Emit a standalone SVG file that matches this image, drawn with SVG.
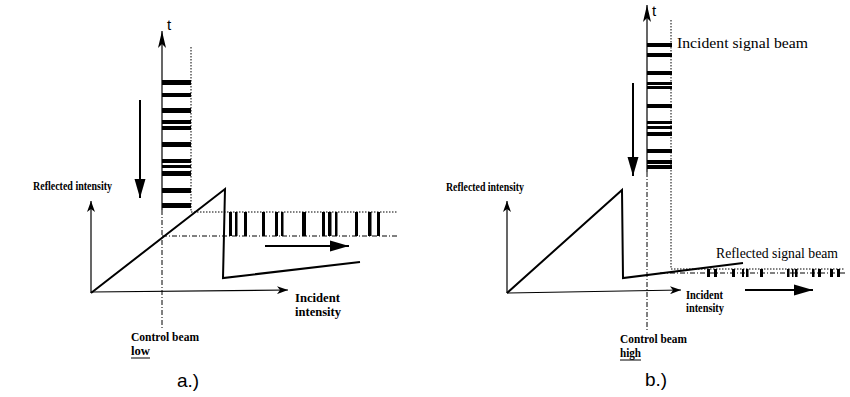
<svg xmlns="http://www.w3.org/2000/svg" width="850" height="397" viewBox="0 0 850 397">
<defs>
<style>
.ax{stroke:#000;stroke-width:1.2;fill:none}
.cv{stroke:#000;stroke-width:2;fill:none}
.dt{stroke:#000;stroke-width:1;stroke-dasharray:1.5 1.5;fill:none}
.dd{stroke:#000;stroke-width:1;stroke-dasharray:5 2 1 2;fill:none}
.lb{font-family:"Liberation Serif",serif;font-weight:bold;font-size:12px;fill:#000}
.tx{font-family:"Liberation Serif",serif;font-size:15px;fill:#000}
.sn{font-family:"Liberation Sans",sans-serif;fill:#000}
.bar{fill:#000}
</style>
<marker id="ah" markerWidth="12" markerHeight="8" refX="11" refY="4" orient="auto" markerUnits="userSpaceOnUse">
<path d="M0,0 L11,4 L0,8 L3,4 Z" fill="#000"/>
</marker>
<marker id="th" markerWidth="18" markerHeight="10" refX="17" refY="5" orient="auto" markerUnits="userSpaceOnUse">
<path d="M0,1 L17,5 L0,9 L4,5 Z" fill="#000"/>
</marker>
<marker id="bh" markerWidth="20" markerHeight="12" refX="19" refY="6" orient="auto" markerUnits="userSpaceOnUse">
<path d="M0,0.5 L19,6 L0,11.5 Z" fill="#000"/>
</marker>
</defs>

<g id="panel-a">
<g id="connectors-a">
<line class="ax" x1="162" y1="210" x2="162" y2="31" marker-end="url(#th)"/>
<line class="dd" x1="162" y1="210" x2="162" y2="330"/>
<line class="dt" x1="191" y1="47" x2="191" y2="212"/>
<line class="cv" x1="140" y1="100" x2="140" y2="198" marker-end="url(#bh)"/>
<line class="ax" x1="91" y1="293" x2="91" y2="201" marker-end="url(#ah)"/>
<line class="ax" x1="91" y1="292" x2="288" y2="290" marker-end="url(#ah)"/>
<polyline class="cv" points="91,293 225,189 223,278 360,262"/>
<line class="dt" x1="191" y1="212" x2="398" y2="212"/>
<line class="dd" x1="162" y1="236" x2="398" y2="236"/>
<line class="cv" x1="265" y1="246" x2="349" y2="246" marker-end="url(#bh)"/>
</g>
<g id="incident-bars-a">
<rect class="bar" x="162" y="80" width="29" height="5"/>
<rect class="bar" x="162" y="93" width="29" height="4"/>
<rect class="bar" x="162" y="108" width="29" height="5"/>
<rect class="bar" x="162" y="120" width="29" height="4"/>
<rect class="bar" x="162" y="126" width="29" height="4"/>
<rect class="bar" x="162" y="142" width="29" height="5"/>
<rect class="bar" x="162" y="159" width="29" height="4"/>
<rect class="bar" x="162" y="165" width="29" height="3"/>
<rect class="bar" x="162" y="171" width="29" height="5"/>
<rect class="bar" x="162" y="188" width="29" height="5"/>
<rect class="bar" x="162" y="203" width="29" height="5"/>
</g>
<g id="reflected-bars-a">
<rect class="bar" x="229" y="212" width="3" height="24"/>
<rect class="bar" x="235" y="212" width="2.5" height="24"/>
<rect class="bar" x="244" y="212" width="3" height="24"/>
<rect class="bar" x="262" y="212" width="3" height="24"/>
<rect class="bar" x="275" y="212" width="3" height="24"/>
<rect class="bar" x="281" y="212" width="2.5" height="24"/>
<rect class="bar" x="302" y="212" width="4" height="24"/>
<rect class="bar" x="322" y="212" width="3" height="24"/>
<rect class="bar" x="328" y="212" width="3.5" height="24"/>
<rect class="bar" x="335" y="212" width="2.5" height="24"/>
<rect class="bar" x="355" y="212" width="3" height="24"/>
<rect class="bar" x="368" y="212" width="3.5" height="24"/>
<rect class="bar" x="377" y="212" width="3" height="24"/>
</g>
<g id="labels-a">
<text class="sn" x="167" y="30" font-size="15">t</text>
<text class="lb" x="33" y="190" textLength="79" lengthAdjust="spacingAndGlyphs">Reflected intensity</text>
<text class="lb" x="295" y="302" textLength="45" lengthAdjust="spacingAndGlyphs">Incident</text>
<text class="lb" x="295" y="316" textLength="46" lengthAdjust="spacingAndGlyphs">intensity</text>
<text class="lb" x="131" y="341" textLength="68" lengthAdjust="spacingAndGlyphs">Control beam</text>
<text class="lb" x="131" y="355" textLength="19" lengthAdjust="spacingAndGlyphs">low</text>
<line x1="131" y1="358" x2="150" y2="358" stroke="#000" stroke-width="1"/>
<text class="sn" x="177" y="387" font-size="19">a.)</text>
</g>
</g>

<g id="panel-b">
<g id="connectors-b">
<line class="ax" x1="647" y1="172" x2="647" y2="5" marker-end="url(#th)"/>
<line class="dd" x1="647" y1="172" x2="647" y2="330"/>
<line class="dt" x1="671" y1="20" x2="671" y2="269"/>
<line class="cv" x1="633" y1="83" x2="633" y2="176" marker-end="url(#bh)"/>
<line class="ax" x1="507" y1="293" x2="507" y2="201" marker-end="url(#ah)"/>
<line class="ax" x1="507" y1="293" x2="681" y2="290" marker-end="url(#ah)"/>
<polyline class="cv" points="507,293 622,190 623,278 743,263"/>
<line class="dt" x1="671" y1="269" x2="845" y2="269"/>
<line class="dd" x1="660" y1="273" x2="845" y2="273"/>
<line class="cv" x1="745" y1="290" x2="813" y2="290" marker-end="url(#bh)"/>
</g>
<g id="incident-bars-b">
<rect class="bar" x="647" y="43" width="25" height="4"/>
<rect class="bar" x="647" y="53" width="25" height="4"/>
<rect class="bar" x="647" y="71" width="25" height="4"/>
<rect class="bar" x="647" y="82" width="25" height="3"/>
<rect class="bar" x="647" y="86" width="25" height="3"/>
<rect class="bar" x="647" y="104" width="25" height="4"/>
<rect class="bar" x="647" y="121" width="25" height="3"/>
<rect class="bar" x="647" y="126" width="25" height="3"/>
<rect class="bar" x="647" y="132" width="25" height="4"/>
<rect class="bar" x="647" y="149" width="25" height="4"/>
<rect class="bar" x="647" y="160" width="25" height="4"/>
<rect class="bar" x="647" y="165" width="25" height="4"/>
</g>
<g id="reflected-bars-b">
<rect class="bar" x="707" y="269" width="3" height="8"/>
<rect class="bar" x="714" y="269" width="3" height="8"/>
<rect class="bar" x="732" y="269" width="3" height="8"/>
<rect class="bar" x="742" y="269" width="2" height="8"/>
<rect class="bar" x="746" y="269" width="2.5" height="8"/>
<rect class="bar" x="760" y="269" width="3" height="8"/>
<rect class="bar" x="787" y="269" width="2.5" height="8"/>
<rect class="bar" x="792" y="269" width="1.5" height="8"/>
<rect class="bar" x="795" y="269" width="2.5" height="8"/>
<rect class="bar" x="812" y="269" width="2.5" height="8"/>
<rect class="bar" x="818" y="269" width="3" height="8"/>
<rect class="bar" x="830" y="269" width="3" height="8"/>
<rect class="bar" x="837" y="269" width="3" height="8"/>
</g>
<g id="labels-b">
<text class="sn" x="652" y="16" font-size="15">t</text>
<text class="tx" x="677" y="48" textLength="131" lengthAdjust="spacingAndGlyphs">Incident signal beam</text>
<text class="tx" x="716" y="258" font-size="13" textLength="122" lengthAdjust="spacingAndGlyphs">Reflected signal beam</text>
<text class="lb" x="446" y="191" textLength="78" lengthAdjust="spacingAndGlyphs">Reflected intensity</text>
<text class="lb" x="686" y="299" font-size="11" textLength="37" lengthAdjust="spacingAndGlyphs">Incident</text>
<text class="lb" x="686" y="312" font-size="11" textLength="38" lengthAdjust="spacingAndGlyphs">intensity</text>
<text class="lb" x="620" y="343" font-size="11" textLength="67" lengthAdjust="spacingAndGlyphs">Control beam</text>
<text class="lb" x="620" y="357" font-size="11" textLength="21" lengthAdjust="spacingAndGlyphs">high</text>
<line x1="620" y1="360" x2="641" y2="360" stroke="#000" stroke-width="1"/>
<text class="sn" x="645" y="386" font-size="19">b.)</text>
</g>
</g>
</svg>
